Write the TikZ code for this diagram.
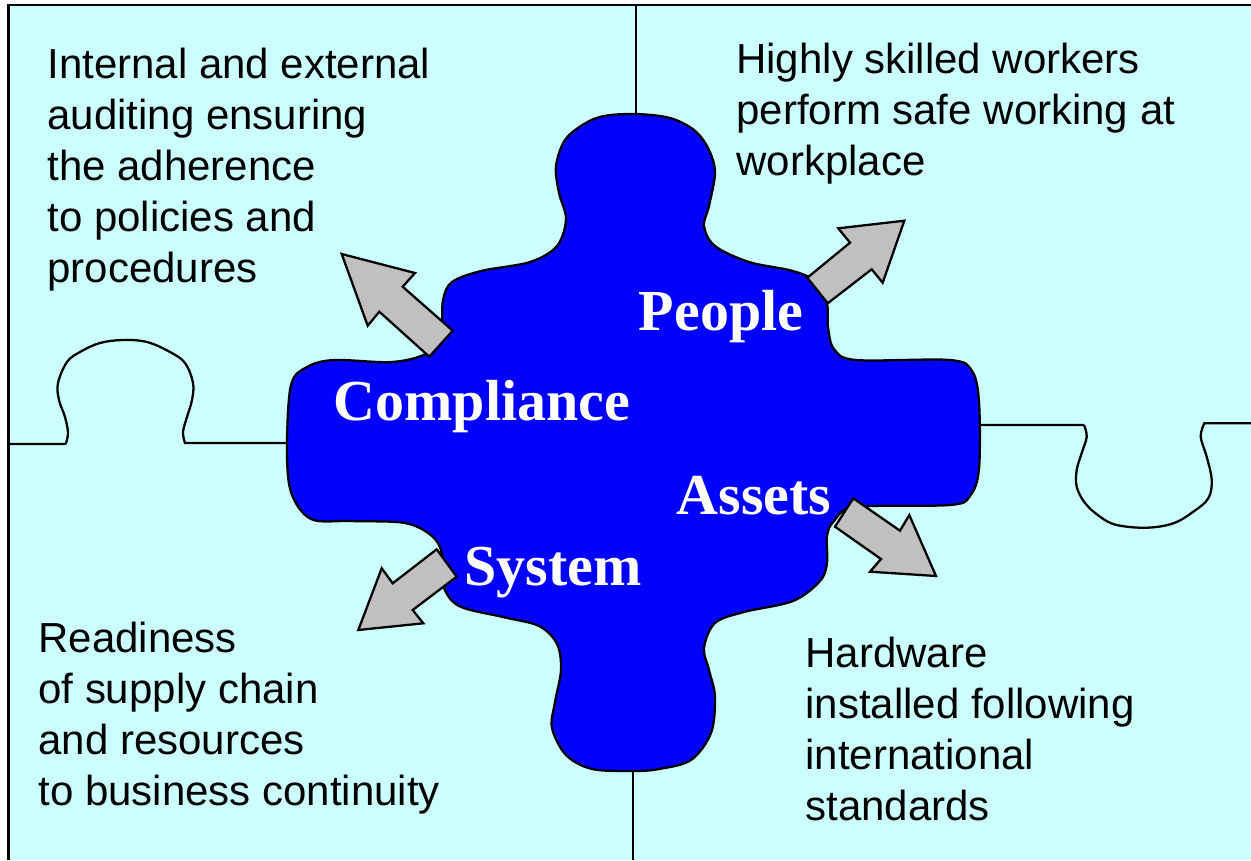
\documentclass[tikz,border=0pt]{standalone}
\usepackage{fontspec}
\setmainfont{Liberation Sans}
\newfontfamily\labelfont{Liberation Serif}
\usepackage{tikz}
\usetikzlibrary{positioning}

\definecolor{paper}{HTML}{CCFFFF}
\definecolor{core}{HTML}{0000FF}
\definecolor{arrowgray}{HTML}{C0C0C0}

\begin{document}
\begin{tikzpicture}[x=0.02cm, y=-0.02cm,
    edge/.style={draw=black, line width=1.3pt},
    blob/.style={draw=black, line width=1.3pt, fill=core},
    bigarrow/.style={draw=black, line width=1.3pt, fill=arrowgray, line join=miter},
    note/.style={align=left, anchor=north west, inner sep=0pt,
                 font=\fontsize{23.9}{29}\selectfont},
    word/.style={anchor=base, inner sep=0pt, text=white,
                 font=\labelfont\bfseries\fontsize{33}{36}\selectfont}
]

    % Canvas
    \useasboundingbox (0,0) rectangle (1251,860);
    \fill[white] (0,0) rectangle (1251,860);
    \fill[paper] (8.5,5) rectangle (1251,860);
    \draw[edge] (8.5,860) -- (8.5,5) -- (1251,5);

    % Puzzle seams
    \draw[edge] (636,5) -- (636,116);
    \draw[edge] (633,768) -- (633,860);
    \draw[edge] (8.5,444) -- (65.7,444)
        plot[smooth, tension=0.6] coordinates {(65.7,444) (68,433) (65,417) (59,400)
            (58,383) (67,362) (80,352) (100,343) (123,340) (147,342) (170,352)
            (185,363) (193,383) (192,400) (187,417) (183,432) (185,443)}
        -- (290,443);
    \draw[edge] (975,425) -- (1084,425)
        plot[smooth, tension=0.6] coordinates {(1084,425) (1086.7,436.7) (1081.7,453)
            (1076.7,470) (1076.7,486.7) (1085,503) (1100,516.7) (1116.7,525)
            (1146.7,527.7) (1173.3,523.3) (1193.3,511.7) (1208.3,498.3) (1211.7,480)
            (1206.7,456.7) (1200.7,436.7) (1204.3,423.3)}
        -- (1251,423.3);

    % Centre piece
    \draw[blob] plot[smooth cycle, tension=0.55] coordinates {
        (636,114) (670,118) (694,130) (708,148) (715,172) (709,206) (704,226) (715,246)
        (749,262) (793,271) (816,282) (827,304) (828,327) (834,349) (856,360)
        (950,360) (972,371) (979,402) (979,469) (970,496) (950,505) (856,507)
        (834,521) (827,536) (827,563) (820,581) (793,601) (744,612) (715,623)
        (704,648) (709,670) (715,697) (711,733) (691,760) (659,769) (633,771)
        (592,769) (566,755) (552,728) (555,702) (561,670) (557,644) (539,626)
        (503,617) (459,606) (443,585) (442,554) (432,536) (405,523) (351,521)
        (311,519) (291,492) (287,447) (291,385) (307,367) (334,360) (392,362)
        (427,353) (441,331) (443,300) (452,282) (481,271) (530,262) (557,246)
        (566,219) (559,193) (556,166) (565,140) (584,124) (604,116)};

    % Arrows
    \draw[bigarrow] (452.7,330.7) -- (402.7,286.7) -- (415,273) -- (341.7,254)
        -- (367.7,325.7) -- (379.3,311.7) -- (429.3,356.7) -- cycle;
    \draw[bigarrow] (807.3,277.7) -- (850,242.7) -- (838.3,228.3) -- (904.3,220.7)
        -- (882.7,282.7) -- (871.7,269.3) -- (827.7,303.3) -- cycle;
    \draw[bigarrow] (853.3,498.3) -- (900,530.7) -- (909.3,515) -- (936,576)
        -- (870,571.7) -- (881,559) -- (835,526.7) -- cycle;
    \draw[bigarrow] (436.7,549.3) -- (392.7,583.3) -- (381.7,568.3) -- (358.3,630)
        -- (423.3,623.3) -- (412.7,610) -- (456.7,576.7) -- cycle;

    % Key words
    \node[word] (people) at (721,330) {People};
    \node[word] (compliance) at (482,420) {Compliance};
    \node[word] (assets) at (754,514) {Assets};
    \node[word] (system) at (553,585.5) {System};

    % Notes
    \node[note] (audit) at (47,48) {Internal and external\\auditing ensuring\\the adherence\\to policies and\\procedures};
    \node[note] (workers) at (736,43) {Highly skilled workers\\perform safe working at\\workplace};
    \node[note] (supply) at (38,622) {Readiness\\of supply chain\\and resources\\to business continuity};
    \node[note] (hardware) at (805,637) {Hardware\\installed following\\international\\standards};

\end{tikzpicture}
\end{document}
